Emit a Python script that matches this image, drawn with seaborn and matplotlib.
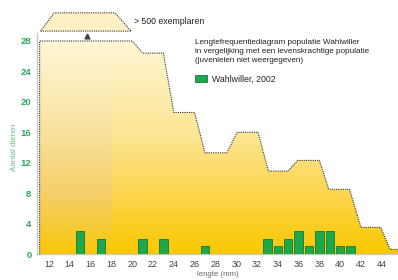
import numpy as np
import matplotlib
matplotlib.use("Agg")
import matplotlib.pyplot as plt
from matplotlib.patches import Polygon, Patch
import seaborn as sns

# Wahlwiller 2002 sample (length mm -> count)
bar_len = [15, 17, 21, 23, 27, 33, 34, 35, 36, 37, 38, 39, 40, 41]
bar_count = [3, 2, 2, 2, 1, 2, 1, 2, 3, 1, 3, 3, 1, 1]

# reference population outline (vital population)
ref_len = [11.1, 20.0, 21.0, 23.0, 24.0, 26.0, 27.0, 29.1, 30.1, 32.1,
           33.1, 35.0, 35.9, 38.0, 38.9, 40.9, 42.0, 43.9, 44.8, 45.6]
ref_count = [28, 28, 26.4, 26.4, 18.6, 18.6, 13.3, 13.3, 16, 16,
             10.9, 10.9, 12.3, 12.3, 8.5, 8.5, 3.5, 3.5, 0.6, 0.6]

x_ticks = list(range(12, 46, 2))
y_ticks = list(range(0, 29, 4))

green = "#1fa84a"
label_green = "#2aa860"

sns.set_style("white")
plt.rcParams["font.family"] = ["Liberation Sans", "DejaVu Sans"]

fig = plt.figure(figsize=(3.98, 2.80), dpi=100)
ax = fig.add_axes([37 / 398, 1 - 254 / 280, 361 / 398, 221 / 280])
xmin, xmax = 10.85, 45.56
ax.set_xlim(xmin, xmax)
ax.set_ylim(0, 29.05)

# gradient fill under the reference outline
ny, nx = 200, 400
yy = np.linspace(0, 29, ny)
stops_v = [0, 3, 8, 16, 29]
top_col = [(249, 200, 0), (250, 205, 30), (252, 214, 80), (253, 230, 150), (255, 248, 218)]
left_col = [(248, 199, 5), (246, 202, 48), (245, 207, 105), (249, 226, 158), (255, 248, 218)]
img = np.zeros((ny, nx, 3))
xx = np.linspace(xmin, xmax, nx)
for c in range(3):
    right = np.interp(yy, stops_v, [t[c] for t in top_col]) / 255
    left = np.interp(yy, stops_v, [t[c] for t in left_col]) / 255
    img[:, :, c] = np.where(xx[None, :] < 18, left[:, None], right[:, None])
poly_pts = [(ref_len[0], 0)] + list(zip(ref_len, ref_count)) + [(ref_len[-1], 0)]
poly = Polygon(poly_pts, closed=True, facecolor="none", edgecolor="none")
ax.add_patch(poly)
im = ax.imshow(img, extent=[xmin, xmax, 0, 29], origin="lower", aspect="auto", zorder=1)
im.set_clip_path(poly)
ax.plot(*zip(*poly_pts), color="#333333", ls=(0, (1, 1)), lw=0.8, zorder=2, clip_on=False)

# sample bars
sns.barplot(x=bar_len, y=bar_count, native_scale=True, width=0.8, color=green,
            saturation=1, edgecolor="#17793a", linewidth=0.6, ax=ax, zorder=3)

# "> 500 exemplaren" indicator above the first plateau
trap = Polygon([(11.2, 29.3), (19.9, 29.3), (18.35, 31.7), (12.5, 31.7)], closed=True,
               facecolor="#fdf0c4", edgecolor="#333333", ls=(0, (1, 1)), lw=0.8,
               clip_on=False, zorder=2)
ax.add_patch(trap)
ax.plot([15.65], [28.6], marker="^", ms=3.5, color="#444444", clip_on=False, zorder=4)
ax.text(20.2, 30.6, "> 500 exemplaren", fontsize=6.3, color="#222222", va="center")

ax.set_xticks(x_ticks)
ax.set_yticks(y_ticks)
ax.tick_params(axis="both", length=0)
ax.tick_params(axis="x", labelsize=6.5, labelcolor="#444444", pad=4)
ax.tick_params(axis="y", labelsize=6.8, labelcolor=label_green, pad=4)
for t in ax.get_yticklabels():
    t.set_fontweight("bold")

ax.set_xlabel("lengte (mm)", fontsize=5.6, color="#666666", labelpad=2)
ax.set_ylabel("Aantal dieren", fontsize=5.8, color="#66c088")
ax.yaxis.set_label_coords(-0.053, 0.484)

for s in ["top", "right"]:
    ax.spines[s].set_visible(False)
for s in ["left", "bottom"]:
    ax.spines[s].set_color("#c8c8c8")
    ax.spines[s].set_linewidth(1)

fig.text(195 / 398, 1 - 39 / 280,
         "Lengtefrequentiediagram populatie Wahlwiller\n"
         "in vergelijking met een levenskrachtige populatie\n"
         "(juvenielen niet weergegeven)",
         fontsize=5.85, color="#222222", va="top", ha="left", linespacing=1.45)

leg = ax.legend(handles=[Patch(facecolor=green, edgecolor="#17793a", lw=0.6)],
                labels=["Wahlwiller, 2002"],
                loc="center left", bbox_to_anchor=(195 / 398, 1 - 79 / 280),
                bbox_transform=fig.transFigure, frameon=False, fontsize=6.3,
                handlelength=1.4, handleheight=0.75, handletextpad=0.5,
                borderpad=0, borderaxespad=0)
for t in leg.get_texts():
    t.set_color("#222222")

fig.savefig("out.png", dpi=100)
